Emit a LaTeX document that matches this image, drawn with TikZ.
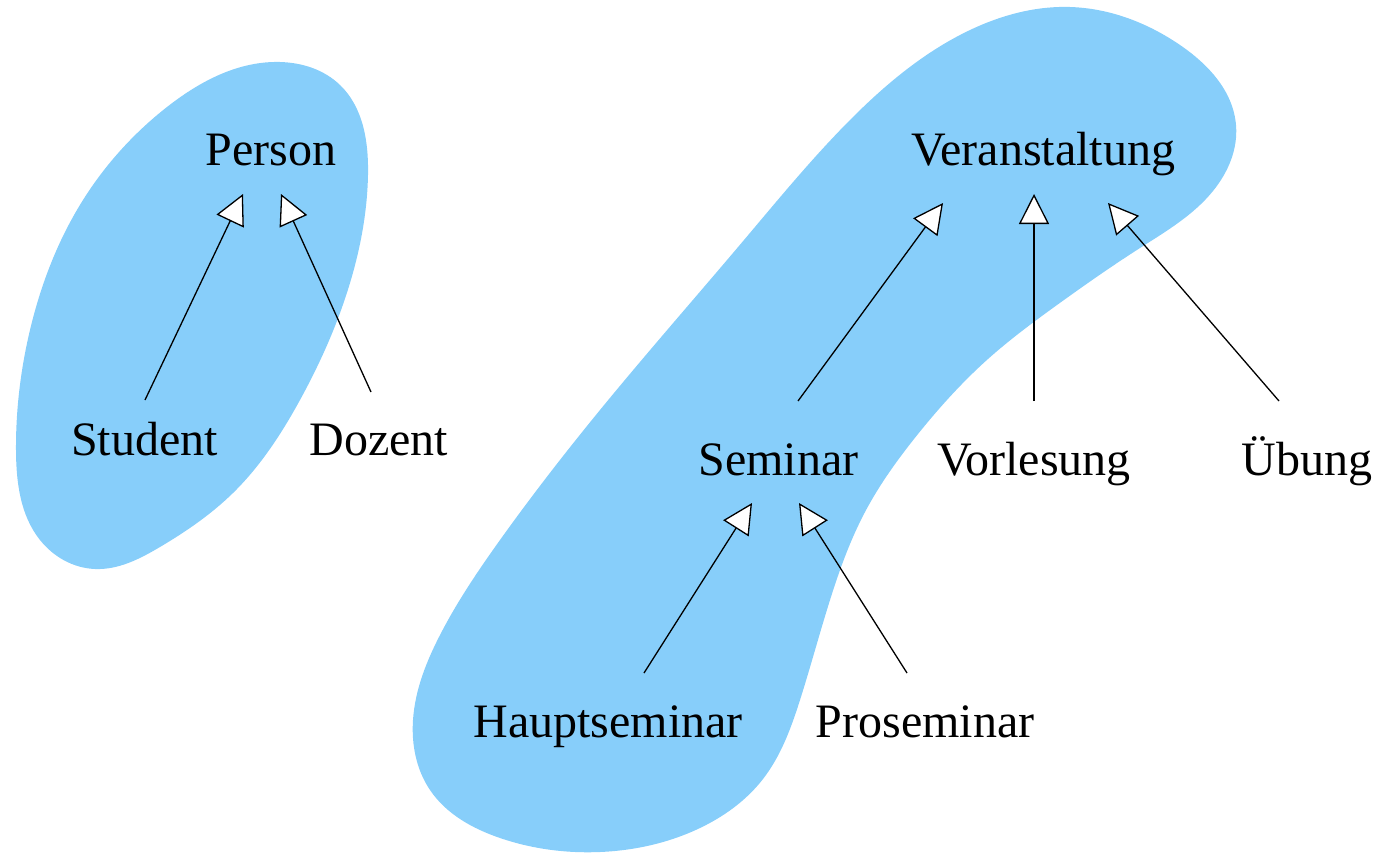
\documentclass[tikz,border=0pt]{standalone}
\usepackage{fontspec}
\setmainfont{Liberation Serif}
\usetikzlibrary{arrows.meta,calc,hobby}
\definecolor{blob}{RGB}{135,206,250}
\tikzset{
  lbl/.style={anchor=base,inner sep=0pt,font=\fontsize{48}{58}\selectfont},
  inh/.style={line width=1.3pt,-{Triangle[length=30pt,width=30pt,fill=white,line width=1.3pt]}},
  blobfill/.style={fill=blob,draw=none,use Hobby shortcut,closed=true}
}
\begin{document}
\begin{tikzpicture}[x=1pt,y=-1pt]
\useasboundingbox (0,0) rectangle (1381,854);
% blobs
\path[blobfill] (280,62) .. (340,85) .. (368,175) .. (350,283) .. (300,400)
 .. (233,493) .. (160,547) .. (95,569) .. (40,540) .. (16,450) .. (30,330)
 .. (83,200) .. (167,107);
\path[blobfill] (1070,7) .. (1180,45) .. (1236,125) .. (1213,191) .. (1140,248)
 .. (1057,305) .. (988,359) .. (918,434) .. (865,512) .. (830,600) .. (800,700)
 .. (763,779) .. (700,828) .. (600,852) .. (500,838) .. (430,790) .. (413,720)
 .. (440,635) .. (500,540) .. (600,410) .. (744,240) .. (850,120) .. (960,35);
% labels
\node[lbl] (person) at (271,165) {Person};
\node[lbl] (student) at (144.5,455) {Student};
\node[lbl] (dozent) at (379,455) {Dozent};
\node[lbl] (veranst) at (1043,165) {Veranstaltung};
\node[lbl] (seminar) at (778.5,475) {Seminar};
\node[lbl] (vorlesung) at (1034,475) {Vorlesung};
\node[lbl] (uebung) at (1307,475) {Übung};
\node[lbl] (haupt) at (608,737) {Hauptseminar};
\node[lbl] (pro) at (925,737) {Proseminar};
% connectors
\draw[inh] ($(student.base)+(0.5,-55)$) -- ($(person.base)+(-28,29)$);
\draw[inh] ($(dozent.base)+(-8,-63)$) -- ($(person.base)+(10,29)$);
\draw[inh] ($(seminar.base)+(19.5,-74)$) -- ($(veranst.base)+(-100,38)$);
\draw[inh] ($(vorlesung.base)+(0,-74)$) -- ($(veranst.base)+(-9,29)$);
\draw[inh] ($(uebung.base)+(-28,-74)$) -- ($(veranst.base)+(65,38)$);
\draw[inh] ($(haupt.base)+(36,-64)$) -- ($(seminar.base)+(-26.5,28)$);
\draw[inh] ($(pro.base)+(-18,-64)$) -- ($(seminar.base)+(20.5,28)$);
\end{tikzpicture}
\end{document}
